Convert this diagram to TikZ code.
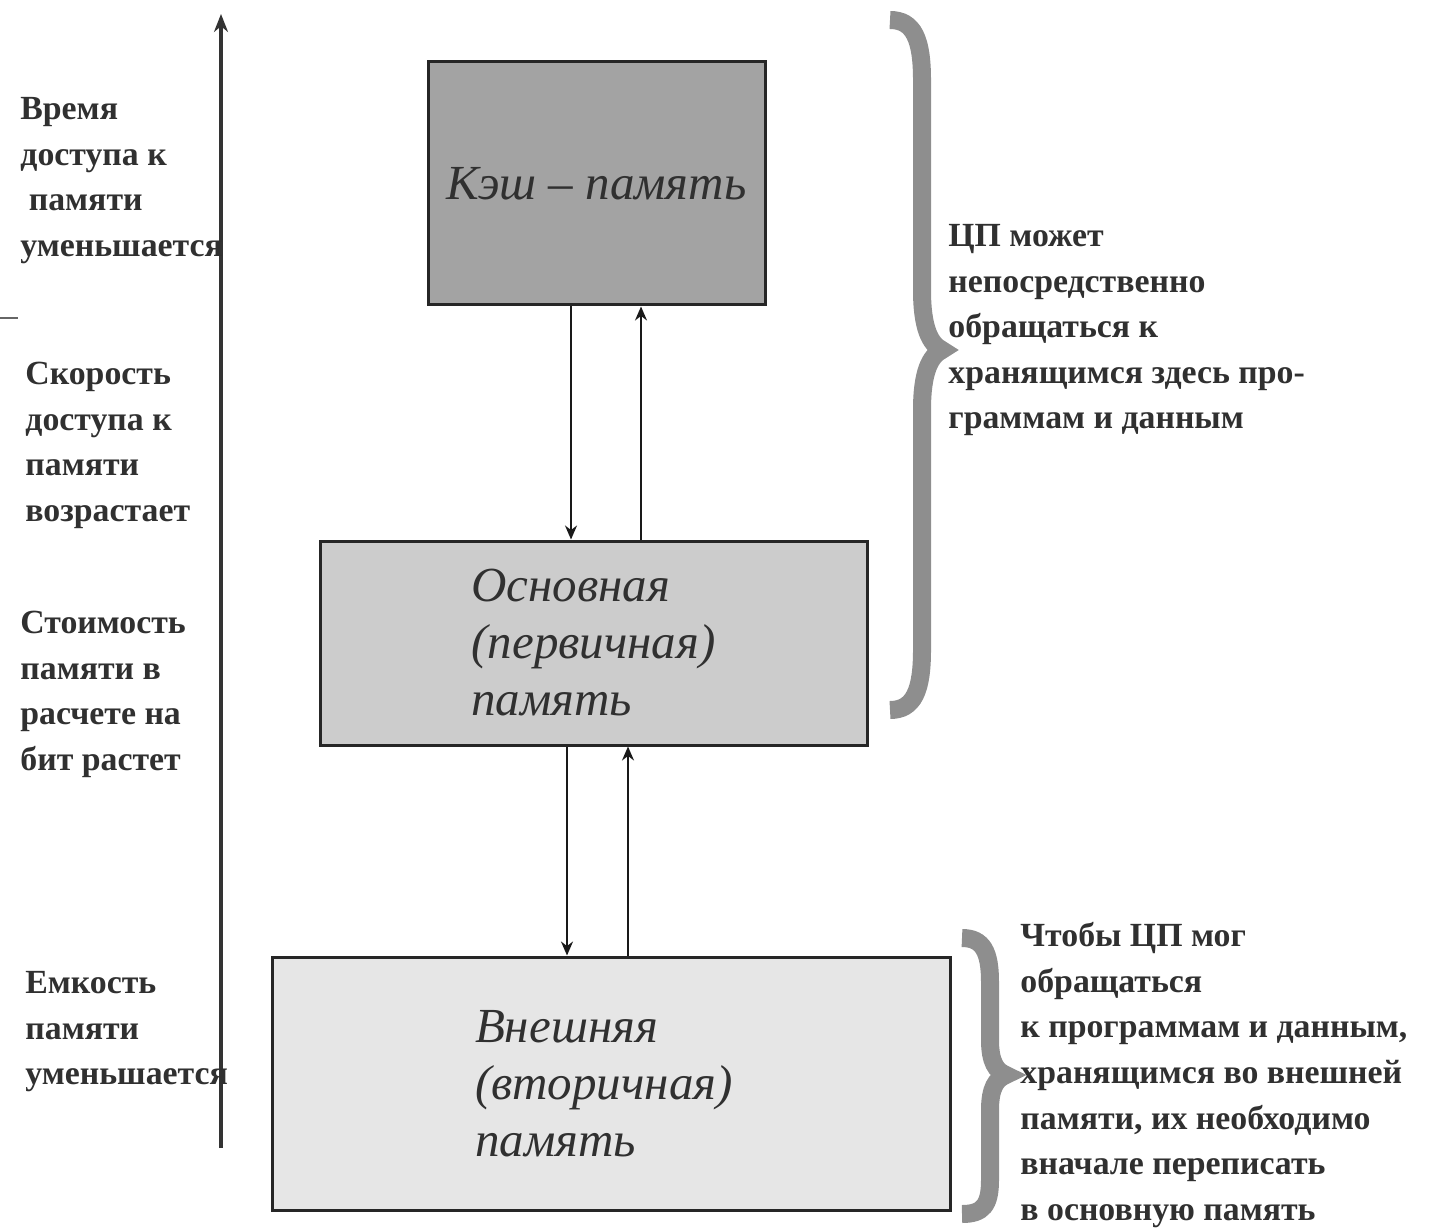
\documentclass[tikz,border=0pt]{standalone}
\usepackage{fontspec}
\setmainfont{Liberation Serif}
\usetikzlibrary{arrows.meta}
\definecolor{cachefill}{HTML}{A3A3A3}
\definecolor{mainfill}{HTML}{CCCCCC}
\definecolor{extfill}{HTML}{E6E6E6}
\definecolor{bracecol}{HTML}{8E8E8E}
\definecolor{txt}{HTML}{303030}
\begin{document}
\begin{tikzpicture}[x=0.5pt,y=-0.5pt,
  membox/.style={draw=black!85, line width=1.5pt, inner sep=0pt, align=left,
    font=\fontsize{24.5}{28.5}\selectfont\itshape, text=txt},
  note/.style={anchor=north west, inner sep=0pt, align=left,
    font=\fontsize{16.9}{22.8}\selectfont\bfseries, text=txt},
  conn/.style={draw=black!90, line width=1pt, -{Stealth[length=7pt,width=6pt]}},
  axisline/.style={draw=black!80, line width=2pt, -{Stealth[length=9pt,width=7pt]}},
  bracepath/.style={draw=bracecol, line width=9pt}
]
\useasboundingbox (0,0) rectangle (1438,1229);

% memory boxes
\node[membox, fill=cachefill, minimum width=168.5pt, minimum height=121.5pt] (cache) at (596.5,183.5) {Кэш – память};
\node[membox, fill=mainfill, minimum width=273.5pt, minimum height=102pt] (main) at (593.5,643) {Основная\\(первичная)\\память};
\node[membox, fill=extfill, minimum width=339pt, minimum height=126.5pt, text width=339pt, inner xsep=0pt] (ext) at (611,1083.5) {\hspace*{101.5pt}Внешняя\\\hspace*{101.5pt}(вторичная)\\\hspace*{101.5pt}память};

% connectors
\coordinate (a1) at (571,0);
\coordinate (a2) at (641,0);
\coordinate (a3) at (567,0);
\coordinate (a4) at (628,0);
\draw[conn] (cache.south -| a1) -- (main.north -| a1);
\draw[conn] (main.north -| a2) -- (cache.south -| a2);
\draw[conn] (main.south -| a3) -- (ext.north -| a3);
\draw[conn] (ext.north -| a4) -- (main.south -| a4);

% vertical axis
\coordinate (axb) at (221,1148);
\coordinate (axt) at (221,14);
\draw[axisline] (axb) -- (axt);

% small tick at left
\coordinate (tk1) at (0,318);
\coordinate (tk2) at (18,318);
\draw[draw=black!60, line width=1pt] (tk1) -- (tk2);

% left notes
\node[note] (n1) at (20,97) {Время\\доступа к\\ \ памяти\\уменьшается};
\node[note] (n2) at (25,362) {Скорость\\доступа к\\памяти\\возрастает};
\node[note] (n3) at (20,611) {Стоимость\\памяти в\\расчете на\\бит растет};
\node[note] (n4) at (25,971) {Емкость\\памяти\\уменьшается};

% braces
\draw[bracepath] (890,20) .. controls (914,20) and (922,40) .. (922,80) -- (922,290)
  .. controls (922,328) and (930,344) .. (942,350)
  .. controls (930,356) and (922,372) .. (922,410) -- (922,650)
  .. controls (922,690) and (914,710) .. (890,710);
\draw[bracepath] (962,938) .. controls (983,938) and (990,952) .. (990,982) -- (990,1040)
  .. controls (990,1062) and (996,1071) .. (1006,1075)
  .. controls (996,1079) and (990,1088) .. (990,1110) -- (990,1180)
  .. controls (990,1205) and (983,1214) .. (962,1214);

% right notes
\node[note] (r1) at (948,224) {ЦП может\\непосредственно\\обращаться к\\хранящимся здесь про-\\граммам и данным};
\node[note] (r2) at (1020,922) {Чтобы ЦП мог\\обращаться\\к программам и данным,\\хранящимся во внешней\\памяти, их необходимо\\вначале переписать\\в основную память};
\end{tikzpicture}
\end{document}
